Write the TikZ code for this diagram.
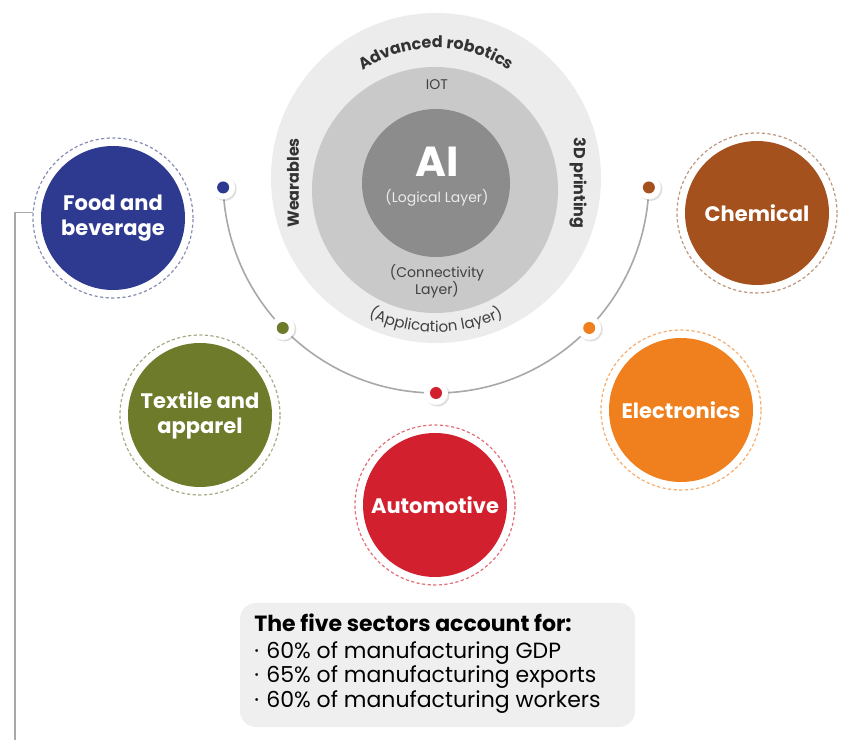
\documentclass[tikz,border=0pt]{standalone}
\usepackage{fontspec}
\setmainfont{Poppins}
\usetikzlibrary{positioning,decorations.text,shadows}
\definecolor{foodblue}{HTML}{2E3A8F}
\definecolor{textolive}{HTML}{6E7B2A}
\definecolor{autored}{HTML}{D3202F}
\definecolor{elecorange}{HTML}{F0801E}
\definecolor{chembrown}{HTML}{A4511D}
\definecolor{outergray}{HTML}{ECECEC}
\definecolor{midgray}{HTML}{C9C9C9}
\definecolor{coregray}{HTML}{8C8C8C}
\definecolor{boxgray}{HTML}{EFEFEF}
\definecolor{linegray}{HTML}{A8A8A8}

\begin{document}
\begin{tikzpicture}[x=0.5pt,y=0.5pt,
        layer/.style={circle,fill=#1,inner sep=0pt},
        sector/.style={circle,fill=#1,minimum size=72pt,inner sep=0pt,align=center,text=white,
            font=\fontsize{10.5}{12.5}\selectfont\bfseries},
        ring/.style={circle,draw=#1!65!white,dash pattern=on 1.6pt off 1.2pt,line width=0.6pt,minimum size=80pt,inner sep=0pt},
        dot/.style={circle,fill=white,minimum size=12pt,inner sep=0pt,
            drop shadow={opacity=0.25,shadow xshift=0.8pt,shadow yshift=-0.8pt}},
        dotcore/.style={circle,fill=#1,minimum size=6pt,inner sep=0pt},
        smalltext/.style={font=\fontsize{7}{8.5}\selectfont,text=#1,align=center}
    ]
    \useasboundingbox (0,0) rectangle (847,740);

    % the three layers
    \node[layer=outergray,minimum size=165pt] (outer) at (436,562) {};
    \node[layer=midgray,minimum size=123pt] (mid) at (435,550) {};
    \node[layer=coregray,minimum size=74pt] (core) at (436,557) {};

    \node[font=\fontsize{21}{23}\selectfont\bfseries,text=white] (ai) at (437,578) {AI};
    \node[smalltext=white!92!black] (logical) at (437,542) {(Logical Layer)};
    \node[smalltext=black!75] (iot) at (437,655) {IOT};
    \node[smalltext=black!75] (conn) at (437,459) {(Connectivity\\Layer)};
    \node[font=\fontsize{8}{9}\selectfont\bfseries,text=black!80,rotate=90] (wear) at (293,557) {Wearables};
    \node[font=\fontsize{8}{9}\selectfont\bfseries,text=black!80,rotate=-90] (print) at (578,557) {3D printing};
    \path[decorate,decoration={text along path,text align=center,
        text={|\fontsize{8}{9}\selectfont\bfseries\color{black!80}|Advanced robotics}}]
        (outer.center) ++(128:130) arc[start angle=128,end angle=52,radius=65pt];
    \path[decorate,decoration={text along path,text align=center,
        text={|\fontsize{7.5}{9}\selectfont\color{black!75}|(Application layer)}}]
        (outer.center) ++(233:154) arc[start angle=233,end angle=307,radius=77pt];

    % arc with the dots
    \coordinate (hub) at (436,560);
    \draw[linegray,line width=0.8pt] ([shift={(182:213)}]hub) arc[start angle=182,end angle=358,radius=106.5pt];
    \node[dot] (dfood) at ([shift={(182:213)}]hub) {};
    \node[dot] (dtextile) at ([shift={(224:213)}]hub) {};
    \node[dot] (dauto) at ([shift={(270:213)}]hub) {};
    \node[dot] (delec) at ([shift={(316:213)}]hub) {};
    \node[dot] (dchem) at ([shift={(358:213)}]hub) {};
    \node[dotcore=foodblue] at (dfood) {};
    \node[dotcore=textolive] at (dtextile) {};
    \node[dotcore=autored] at (dauto) {};
    \node[dotcore=elecorange] at (delec) {};
    \node[dotcore=chembrown] at (dchem) {};

    % sectors
    \node[ring=foodblue!70!gray] (foodring) at (113,522) {};
    \node[sector=foodblue] (food) at (foodring) {Food and\\beverage};
    \node[ring=textolive!70!gray] (textilering) at (200,325) {};
    \node[sector=textolive] (textile) at (textilering) {Textile and\\apparel};
    \node[ring=autored] (autoring) at (435,235) {};
    \node[sector=autored] (auto) at (autoring) {Automotive};
    \node[ring=elecorange] (elecring) at (681,330) {};
    \node[sector=elecorange] (elec) at (elecring) {Electronics};
    \node[ring=chembrown!70!gray] (chemring) at (757,527) {};
    \node[sector=chembrown] (chem) at (chemring) {Chemical};

    \coordinate (linebot) at (15,0);
    \draw[linegray,line width=0.6pt] (foodring.176) -| (linebot);

    % summary box
    \fill[boxgray,rounded corners=8pt] (240,13) rectangle (635,137);
    \node[anchor=north west,inner sep=0pt,align=left,font=\fontsize{11}{11}\selectfont] (summary) at (254,127)
        {{\bfseries The five sectors account for:}\\[2.5pt]
         ·\,\,60\% of manufacturing GDP\\
         ·\,\,65\% of manufacturing exports\\
         ·\,\,60\% of manufacturing workers};
\end{tikzpicture}
\end{document}
